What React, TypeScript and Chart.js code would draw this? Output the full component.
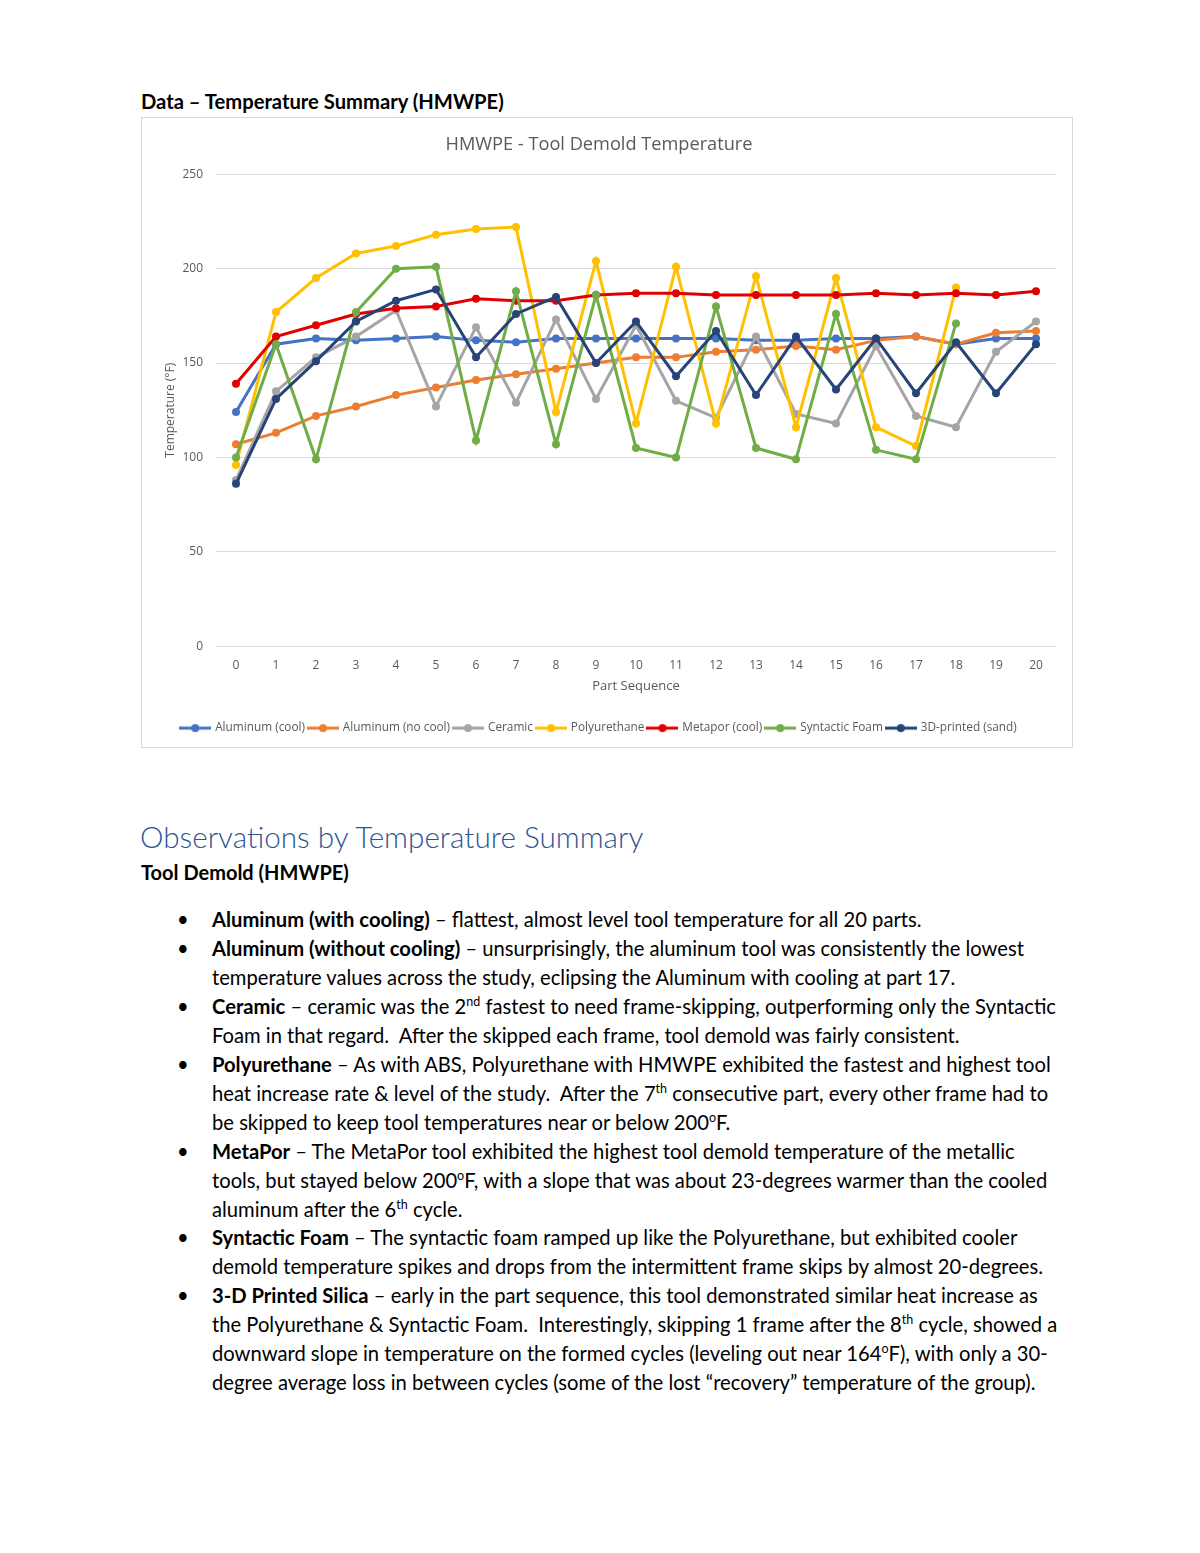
import React, { useEffect, useRef } from "react";
import { Chart, registerables } from "chart.js";

Chart.register(...registerables);

const partSequence = ["0","1","2","3","4","5","6","7","8","9","10","11","12","13","14","15","16","17","18","19","20"];
const yTicks = [0, 50, 100, 150, 200, 250];

const aluminumCool = [124, 160, 163, 162, 163, 164, 162, 161, 163, 163, 163, 163, 163, 162, 162, 163, 163, 164, 160, 163, 163];
const aluminumNoCool = [107, 113, 122, 127, 133, 137, 141, 144, 147, 150, 153, 153, 156, 157, 159, 157, 162, 164, 160, 166, 167];
const ceramic = [88, 135, 153, 164, 178, 127, 169, 129, 173, 131, 170, 130, 121, 164, 123, 118, 159, 122, 116, 156, 172];
const polyurethane = [96, 177, 195, 208, 212, 218, 221, 222, 124, 204, 118, 201, 118, 196, 116, 195, 116, 106, 190, null, null];
const metapor = [139, 164, 170, 176, 179, 180, 184, 183, 183, 186, 187, 187, 186, 186, 186, 186, 187, 186, 187, 186, 188];
const syntacticFoam = [100, 160, 99, 177, 200, 201, 109, 188, 107, 186, 105, 100, 180, 105, 99, 176, 104, 99, 171, null, null];
const sand3D = [86, 131, 151, 172, 183, 189, 153, 176, 185, 150, 172, 143, 167, 133, 164, 136, 163, 134, 161, 134, 160];

const seriesNames = ["Aluminum (cool)", "Aluminum (no cool)", "Ceramic", "Polyurethane", "Metapor (cool)", "Syntactic Foam", "3D-printed (sand)"];
const seriesValues = [aluminumCool, aluminumNoCool, ceramic, polyurethane, metapor, syntacticFoam, sand3D];
const seriesColors = ["#4472C4", "#ED7D31", "#A5A5A5", "#FFC000", "#E00000", "#70AD47", "#264478"];

const CHART_FONT = "'Open Sans', 'DejaVu Sans', sans-serif";
const TEXT_FONT = "Lato, 'Open Sans', sans-serif";

function legendMarker(color: string): HTMLCanvasElement {
  const c = document.createElement("canvas");
  c.width = 32;
  c.height = 10;
  const ctx = c.getContext("2d")!;
  ctx.strokeStyle = color;
  ctx.lineWidth = 3;
  ctx.beginPath();
  ctx.moveTo(0, 5);
  ctx.lineTo(32, 5);
  ctx.stroke();
  ctx.fillStyle = color;
  ctx.beginPath();
  ctx.arc(16, 5, 4, 0, Math.PI * 2);
  ctx.fill();
  return c;
}

function TempChart() {
  const ref = useRef<HTMLCanvasElement | null>(null);
  useEffect(() => {
    if (!ref.current) return;
    const n = seriesNames.length;
    const chart = new Chart(ref.current, {
      type: "line",
      data: {
        labels: partSequence,
        datasets: seriesNames.map((name, i) => ({
          label: name,
          data: seriesValues[i],
          borderColor: seriesColors[i],
          backgroundColor: seriesColors[i],
          borderWidth: 3,
          pointRadius: 4,
          pointHoverRadius: 4,
          pointBorderWidth: 0,
          tension: 0,
          spanGaps: false,
          order: n - i,
        })),
      },
      options: {
        animation: false,
        responsive: false,
        maintainAspectRatio: false,
        layout: { padding: { left: 0, right: 16, top: 0, bottom: 3 } },
        plugins: {
          title: {
            display: true,
            text: "HMWPE - Tool Demold Temperature",
            color: "#595959",
            font: { family: CHART_FONT, size: 18.2, weight: "normal", lineHeight: 1.2 },
            padding: { top: 16, bottom: 18.4 },
          },
          legend: {
            position: "bottom",
            labels: {
              usePointStyle: true,
              pointStyleWidth: 28,
              boxHeight: 10,
              padding: 4,
              color: "#595959",
              font: { family: CHART_FONT, size: 11.8 },
              sort: (a: any, b: any) => a.datasetIndex - b.datasetIndex,
              generateLabels: (ch: any) =>
                ch.data.datasets.map((ds: any, i: number) => ({
                  text: ds.label,
                  fillStyle: seriesColors[i],
                  strokeStyle: seriesColors[i],
                  fontColor: "#595959",
                  lineWidth: 0,
                  pointStyle: legendMarker(seriesColors[i]),
                  hidden: false,
                  datasetIndex: i,
                })),
            },
          },
          tooltip: { enabled: false },
        },
        scales: {
          x: {
            type: "category",
            offset: true,
            grid: { display: false },
            border: { display: false },
            ticks: { color: "#595959", font: { family: CHART_FONT, size: 12 }, padding: 4, maxRotation: 0, autoSkip: false },
            title: {
              display: true,
              text: "Part Sequence",
              color: "#595959",
              font: { family: CHART_FONT, size: 13 },
              padding: { top: 4, bottom: 24 },
            },
            afterFit: (scale: any) => {
              scale.height = 72;
            },
          },
          y: {
            min: 0,
            max: 250,
            afterBuildTicks: (scale: any) => {
              scale.ticks = yTicks.map((v) => ({ value: v }));
            },
            grid: { color: "#D9D9D9", lineWidth: 1, drawTicks: false },
            border: { display: false },
            ticks: { color: "#595959", font: { family: CHART_FONT, size: 12 }, padding: 13 },
            title: {
              display: true,
              text: "Temperature (°F)",
              color: "#595959",
              font: { family: CHART_FONT, size: 12 },
              padding: { top: 21, bottom: 0 },
            },
            afterFit: (scale: any) => {
              scale.width = 74;
            },
          },
        },
      },
    });
    return () => chart.destroy();
  }, []);
  return <canvas ref={ref} width={930} height={629} style={{ display: "block", width: 930, height: 629 }} />;
}

const bodyText: React.CSSProperties = {
  fontFamily: TEXT_FONT,
  fontSize: 20.2,
  color: "#000",
  lineHeight: "28.9px",
  whiteSpace: "nowrap",
};

function Bullet({ top, children }: { top: number; children: React.ReactNode }) {
  return (
    <div style={{ position: "absolute", left: 0, top, width: 1200 }}>
      <span style={{ ...bodyText, position: "absolute", left: 177 }}>•</span>
      <div style={{ ...bodyText, position: "absolute", left: 212 }}>{children}</div>
    </div>
  );
}

const sup: React.CSSProperties = { fontSize: "0.62em", verticalAlign: "super", lineHeight: 0 };

export default function App() {
  return (
    <div style={{ position: "absolute", left: 0, top: 0, width: 1200, height: 1553, background: "#fff" }}>
      <div style={{ position: "absolute", left: 141, top: 89, fontFamily: TEXT_FONT, fontWeight: 700, fontSize: 20.2, whiteSpace: "nowrap" }}>
        Data – Temperature Summary (HMWPE)
      </div>
      <div style={{ position: "absolute", left: 141, top: 117, width: 930, height: 629, border: "1px solid #D9D9D9" }}>
        <TempChart />
      </div>
      <div style={{ position: "absolute", left: 140, top: 819, fontFamily: TEXT_FONT, fontWeight: 300, fontSize: 29.7, color: "#2F5496", whiteSpace: "nowrap" }}>
        Observations by Temperature Summary
      </div>
      <div style={{ position: "absolute", left: 141, top: 860, fontFamily: TEXT_FONT, fontWeight: 700, fontSize: 20, whiteSpace: "nowrap" }}>
        Tool Demold (HMWPE)
      </div>
      <Bullet top={905}>
        <b>Aluminum (with cooling)</b> – flattest, almost level tool temperature for all 20 parts.
      </Bullet>
      <Bullet top={934}>
        <b>Aluminum (without cooling)</b> – unsurprisingly, the aluminum tool was consistently the lowest
        <br />
        temperature values across the study, eclipsing the Aluminum with cooling at part 17.
      </Bullet>
      <Bullet top={992}>
        <b>Ceramic</b> – ceramic was the 2<span style={sup}>nd</span> fastest to need frame-skipping, outperforming only the Syntactic
        <br />
        Foam in that regard.&nbsp; After the skipped each frame, tool demold was fairly consistent.
      </Bullet>
      <Bullet top={1050}>
        <b>Polyurethane</b> – As with ABS, Polyurethane with HMWPE exhibited the fastest and highest tool
        <br />
        heat increase rate &amp; level of the study.&nbsp; After the 7<span style={sup}>th</span> consecutive part, every other frame had to
        <br />
        be skipped to keep tool temperatures near or below 200<span style={sup}>o</span>F.
      </Bullet>
      <Bullet top={1137}>
        <b>MetaPor</b> – The MetaPor tool exhibited the highest tool demold temperature of the metallic
        <br />
        tools, but stayed below 200<span style={sup}>o</span>F, with a slope that was about 23-degrees warmer than the cooled
        <br />
        aluminum after the 6<span style={sup}>th</span> cycle.
      </Bullet>
      <Bullet top={1223}>
        <b>Syntactic Foam</b> – The syntactic foam ramped up like the Polyurethane, but exhibited cooler
        <br />
        demold temperature spikes and drops from the intermittent frame skips by almost 20-degrees.
      </Bullet>
      <Bullet top={1281}>
        <b>3-D Printed Silica</b> – early in the part sequence, this tool demonstrated similar heat increase as
        <br />
        the Polyurethane &amp; Syntactic Foam.&nbsp; Interestingly, skipping 1 frame after the 8<span style={sup}>th</span> cycle, showed a
        <br />
        downward slope in temperature on the formed cycles (leveling out near 164<span style={sup}>o</span>F), with only a 30-
        <br />
        degree average loss in between cycles (some of the lost “recovery” temperature of the group).
      </Bullet>
    </div>
  );
}
